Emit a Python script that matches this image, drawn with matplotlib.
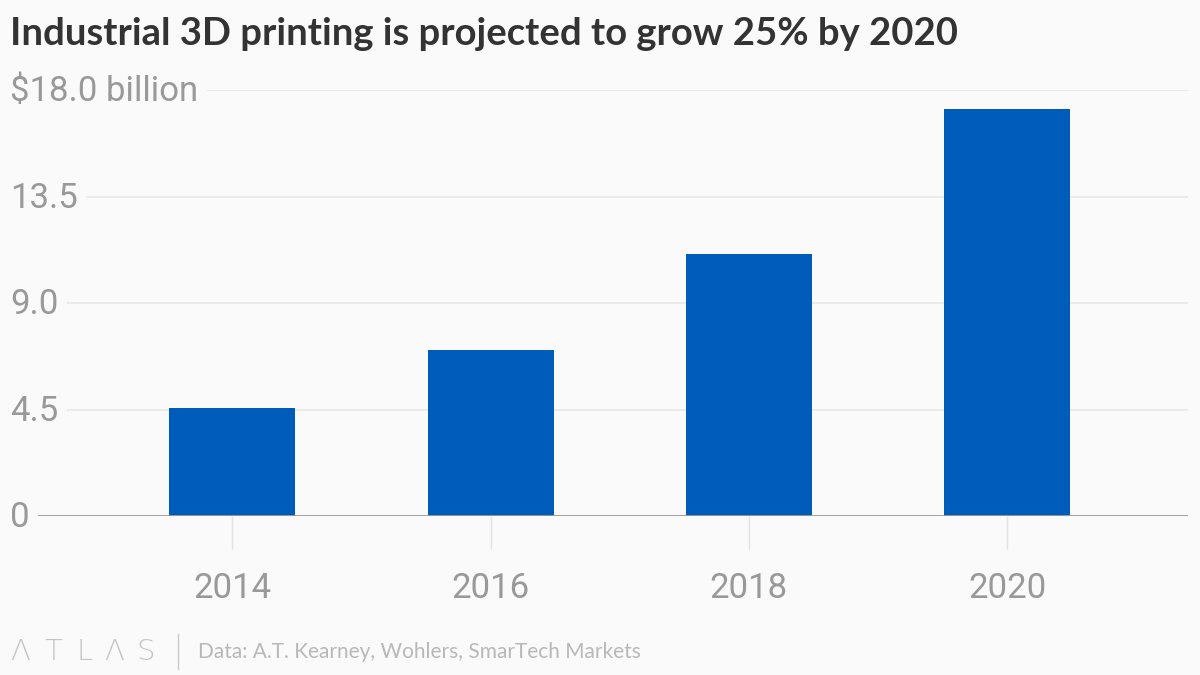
import matplotlib.pyplot as plt
from matplotlib.transforms import blended_transform_factory

# data ($ billion)
years = ['2014', '2016', '2018', '2020']
revenue = [4.55, 7.0, 11.05, 17.2]

y_ticks = [0, 4.5, 9.0, 13.5, 18.0]
y_tick_labels = ['0', '4.5', '9.0', '13.5', '$18.0 billion']

title = 'Industrial 3D printing is projected to grow 25% by 2020'
source = 'Data: A.T. Kearney, Wohlers, SmarTech Markets'

bg = '#fafafa'
bar_color = '#005cbb'
label_gray = '#999999'

fig = plt.figure(figsize=(12, 6.75), dpi=100, facecolor=bg)
W, H = 1200, 675
left, right, bottom, top = 10, 1188, 516, 90
ax = fig.add_axes([left / W, (H - bottom) / H, (right - left) / W, (bottom - top) / H])
ax.set_facecolor(bg)

x = range(len(years))
ax.bar(x, revenue, width=0.487, color=bar_color, zorder=2)

ax.set_xlim(-0.861, 3.70)
ax.set_ylim(0, 18.0)

# gridlines, zero baseline darker
for t in y_ticks[1:]:
    ax.axhline(t, color='#e9e9e9', lw=1.3, zorder=1)
ax.axhline(0, color='#9a9a9a', lw=1.3, zorder=3)

for s in ax.spines.values():
    s.set_visible(False)

ax.set_yticks([])
ax.set_xticks(list(x))
ax.set_xticklabels(years, fontfamily='Roboto', fontsize=25, color=label_gray)
ax.tick_params(axis='x', length=24, width=1, color='#e2e2e2', pad=16)

# y labels sit on the gridlines, masking them
trans = blended_transform_factory(ax.transAxes, ax.transData)
for t, lab in zip(y_ticks, y_tick_labels):
    ax.text(0, t - 0.08, lab, transform=trans, ha='left', va='center',
            fontfamily='Roboto', fontsize=25, color=label_gray, zorder=5,
            bbox=dict(boxstyle='square,pad=0.25', facecolor=bg, edgecolor='none'))

fig.text(10 / W, 1 - 34 / H, title, ha='left', va='center',
         fontfamily='Lato', fontweight='bold', fontsize=27.5, color='#333333')

# footer: ATLAS logo, divider, source
for ch, px in zip('ΛTLΛS', [10, 44, 76, 104, 136]):
    fig.text(px / W, 1 - 652 / H, ch, ha='left', va='center',
             fontfamily=['DejaVu Sans'], fontweight='light', fontsize=21, color='#c4c4c4')
fig.add_artist(plt.Line2D([178 / W, 178 / W], [1 - 634 / H, 1 - 669 / H],
                          color='#cccccc', lw=1))
fig.text(198 / W, 1 - 652 / H, source, ha='left', va='center',
         fontfamily='Lato', fontsize=15, color='#b8b8b8')

fig.savefig('out.png', dpi=100, facecolor=bg)
